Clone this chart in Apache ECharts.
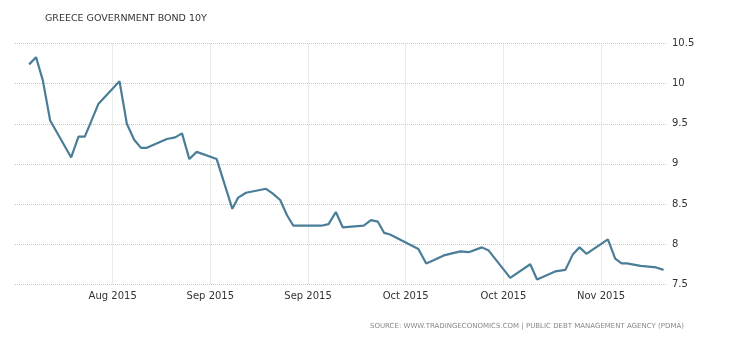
<!DOCTYPE html>
<html>
<head>
<meta charset="utf-8">
<script src="https://cdn.jsdelivr.net/npm/echarts@6/dist/echarts.min.js"></script>
<style>html,body{margin:0;padding:0;background:#fff}#c{width:730px;height:340px}</style>
</head>
<body>
<div id="c"></div>
<script>
// x position in day units (tick every 20 units), y = yield %
var days = [2.9, 4.3, 5.7, 7.2, 11.5, 13.0, 14.3, 17.1, 21.4, 22.9, 24.4, 25.8, 27.0, 31.1, 32.8, 34.2, 35.7, 37.2, 41.3, 44.5, 45.7, 47.3, 51.4, 52.8, 54.3, 55.7, 57.0, 62.7, 64.2, 65.7, 67.1, 71.4, 72.9, 74.3, 75.6, 76.8, 82.6, 84.2, 85.7, 87.8, 91.2, 92.9, 95.6, 97.0, 101.4, 105.5, 106.9, 110.6, 112.7, 114.2, 115.6, 117.0, 121.4, 122.9, 124.2, 125.3, 128.1, 131.3, 132.8];
var yields = [10.24, 10.33, 10.04, 9.54, 9.08, 9.34, 9.34, 9.75, 10.03, 9.50, 9.30, 9.20, 9.20, 9.31, 9.33, 9.38, 9.06, 9.15, 9.06, 8.44, 8.58, 8.64, 8.69, 8.63, 8.55, 8.36, 8.23, 8.23, 8.25, 8.40, 8.21, 8.23, 8.30, 8.28, 8.14, 8.12, 7.94, 7.76, 7.80, 7.86, 7.91, 7.90, 7.96, 7.92, 7.58, 7.75, 7.56, 7.66, 7.68, 7.87, 7.96, 7.88, 8.06, 7.82, 7.76, 7.76, 7.73, 7.71, 7.68];
var tickValues = [20, 40, 60, 80, 100, 120];
var tickLabels = ['Aug 2015', 'Sep 2015', 'Sep 2015', 'Oct 2015', 'Oct 2015', 'Nov 2015'];
var yTicks = [7.5, 8, 8.5, 9, 9.5, 10, 10.5];
var titleText = 'GREECE GOVERNMENT BOND 10Y';
var sourceText = 'SOURCE: WWW.TRADINGECONOMICS.COM | PUBLIC DEBT MANAGEMENT AGENCY (PDMA)';

var chart = echarts.init(document.getElementById('c'), null, {renderer: 'canvas'});
var font = 'DejaVu Sans';
var pts = days.map(function (d, i) { return [d, yields[i]]; });
chart.setOption({
  animation: false,
  backgroundColor: '#ffffff',
  title: [
    {text: titleText, left: 40, top: 9, textStyle: {fontFamily: font, fontSize: 9.5, fontWeight: 'normal', color: '#333333'}},
    {text: sourceText, left: 365, top: 318, textStyle: {fontFamily: font, fontSize: 7, fontWeight: 'normal', color: '#888888'}}
  ],
  grid: {left: 15, right: 64, top: 43.5, bottom: 55.7, containLabel: false},
  xAxis: {
    type: 'value', min: 0, max: 133.3, interval: 20,
    axisLine: {show: false}, axisTick: {show: false},
    axisLabel: {
      fontFamily: font, fontSize: 10, color: '#333333', margin: 7,
      showMinLabel: false, showMaxLabel: false,
      formatter: function (v) { var k = tickValues.indexOf(Math.round(v * 10) / 10); return k >= 0 ? tickLabels[k] : ''; }
    },
    splitLine: {show: true, lineStyle: {type: 'dotted', width: 1, color: ['rgba(0,0,0,0)', '#d6d6d6', '#d6d6d6', '#d6d6d6', '#d6d6d6', '#d6d6d6', '#d6d6d6', 'rgba(0,0,0,0)']}}
  },
  yAxis: {
    type: 'value', position: 'right', min: yTicks[0], max: yTicks[yTicks.length - 1], interval: 0.5,
    axisLine: {show: false}, axisTick: {show: false},
    axisLabel: {fontFamily: font, fontSize: 10, color: '#333333', margin: 6},
    splitLine: {show: true, lineStyle: {type: 'dotted', width: 1, color: '#c8c8c8'}}
  },
  series: [{
    type: 'line', data: pts, showSymbol: false, symbol: 'none',
    lineStyle: {color: '#4a7d98', width: 2.2}
  }]
});
</script>
</body>
</html>
